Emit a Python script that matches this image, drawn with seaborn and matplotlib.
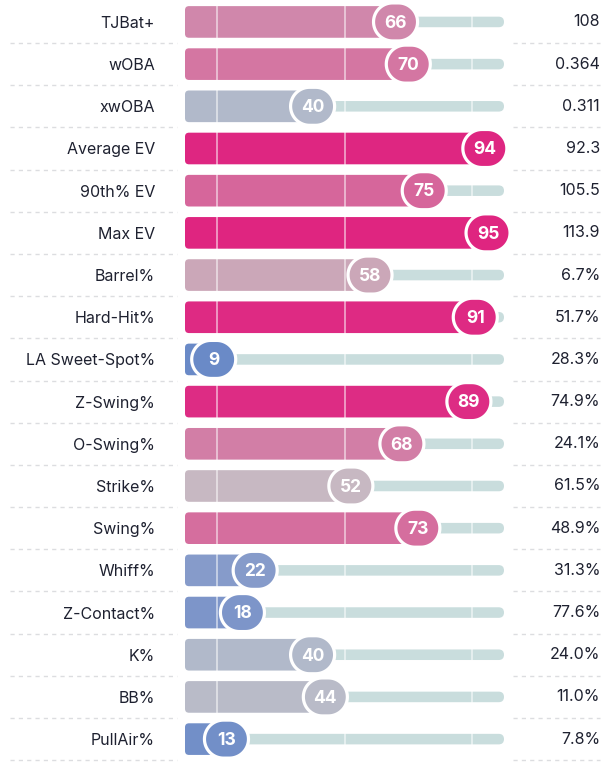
import matplotlib
matplotlib.use("Agg")
import numpy as np
import matplotlib.pyplot as plt
import seaborn as sns
import pandas as pd
from matplotlib.patches import FancyBboxPatch
from matplotlib.path import Path
from matplotlib.colors import LinearSegmentedColormap

metrics = ["TJBat+", "wOBA", "xwOBA", "Average EV", "90th% EV", "Max EV", "Barrel%",
           "Hard-Hit%", "LA Sweet-Spot%", "Z-Swing%", "O-Swing%", "Strike%", "Swing%",
           "Whiff%", "Z-Contact%", "K%", "BB%", "PullAir%"]
percentiles = [66, 70, 40, 94, 75, 95, 58, 91, 9, 89, 68, 52, 73, 22, 18, 40, 44, 13]
raw_values = ["108", "0.364", "0.311", "92.3", "105.5", "113.9", "6.7%", "51.7%", "28.3%",
              "74.9%", "24.1%", "61.5%", "48.9%", "31.3%", "77.6%", "24.0%", "11.0%", "7.8%"]

# percentile colour scale (blue -> grey -> magenta)
cmap = LinearSegmentedColormap.from_list("pct", [
    (0.00, "#5a7ec6"), (0.10, "#6c8bc7"), (0.20, "#8198ca"), (0.40, "#b1b9ca"),
    (0.50, "#c6bec6"), (0.58, "#cba7b8"), (0.66, "#d087ab"), (0.70, "#d477a2"),
    (0.75, "#d6679b"), (0.89, "#dd2c84"), (1.00, "#e0207d")])

TRACK = "#c9dddd"
TEXT = "#1e2130"

sns.set_theme(style="white")
plt.rcParams["font.family"] = ["Inter", "DejaVu Sans"]

df = pd.DataFrame({"metric": metrics, "pct": percentiles, "value": raw_values})
df["row"] = range(len(df))
colors = [cmap(p / 100) for p in percentiles]

fig = plt.figure(figsize=(6.14, 7.64), dpi=100)
ax = fig.add_axes([185 / 614, 0, 319 / 614, 1])

# background track, then percentile bars
sns.barplot(data=df.assign(full=100), x="full", y="metric", orient="h", color=TRACK,
            width=0.25, ax=ax, saturation=1)
n_track = len(ax.patches)
sns.barplot(data=df, x="pct", y="metric", hue="metric", orient="h", palette=colors,
            width=0.75, ax=ax, legend=False, saturation=1)

ax.set_xlim(0, 100)
ax.set_ylim(17.59, -0.52)

px_x = 319 / 100.0          # pixels per x unit
px_y = 764 / (17.59 + 0.52)  # pixels per row
aspect = px_x / px_y


def rounded(p, radius_px, z):
    x0, y0, w, h = p.get_x(), p.get_y(), p.get_width(), p.get_height()
    r = min(radius_px / px_x, w / 2)
    box = FancyBboxPatch((x0, y0), w, h, boxstyle=f"round,pad=0,rounding_size={r}",
                         mutation_aspect=aspect, facecolor=p.get_facecolor(),
                         edgecolor="none", zorder=z)
    p.remove()
    ax.add_patch(box)


patches = list(ax.patches)
for i, p in enumerate(patches):
    if i < n_track:
        rounded(p, 5.3, 1)
    else:
        rounded(p, 4, 2)

for xv in [10, 50, 90]:
    ax.axvline(xv, color="white", lw=1.1, alpha=0.65, zorder=3)

# stadium-shaped badge marker (44 x 38 px)
half_flat, r = 3.0, 19.0
t1 = np.linspace(-np.pi / 2, np.pi / 2, 40)
t2 = np.linspace(np.pi / 2, 3 * np.pi / 2, 40)
verts = np.vstack([np.column_stack([half_flat + r * np.cos(t1), r * np.sin(t1)]),
                   np.column_stack([-half_flat + r * np.cos(t2), r * np.sin(t2)])])
verts = np.vstack([verts, verts[:1]])
codes = [Path.MOVETO] + [Path.LINETO] * (len(verts) - 2) + [Path.CLOSEPOLY]
stadium = Path(verts, codes)
msize = 44 * 72 / 100  # full width in points

sns.scatterplot(data=df, x="pct", y="row", hue="metric", palette=colors, marker=stadium,
                s=msize ** 2, edgecolor="white", linewidth=2.3, legend=False, ax=ax,
                zorder=4, clip_on=False)
for i, p in enumerate(percentiles):
    ax.text(p, i + 0.03, str(p), ha="center", va="center", color="white",
            fontsize=12.5, fontweight="bold", zorder=5)

ax.set_xlim(0, 100)
ax.set_ylim(17.59, -0.52)

# right-hand raw values
tr = ax.get_yaxis_transform()
for i, v in enumerate(raw_values):
    ax.text(1.301, i, v, transform=tr, ha="right", va="center", fontsize=11.5, color=TEXT)

# dashed separators
for i in range(len(metrics)):
    y = i + 0.5
    for a, b in [(-0.549, -0.025), (1.028, 1.301)]:
        ax.plot([a, b], [y, y], transform=tr, color="#dcdde0", lw=1, dashes=(3, 3),
                clip_on=False, zorder=0)

ax.set_yticks(range(len(metrics)))
ax.set_yticklabels(metrics)
ax.set_xticks([])
ax.set_xlabel("")
ax.set_ylabel("")
ax.tick_params(axis="y", length=0, pad=21.6, labelsize=11.5, labelcolor=TEXT)
sns.despine(ax=ax, left=True, bottom=True)

fig.savefig("out.png", dpi=100)
